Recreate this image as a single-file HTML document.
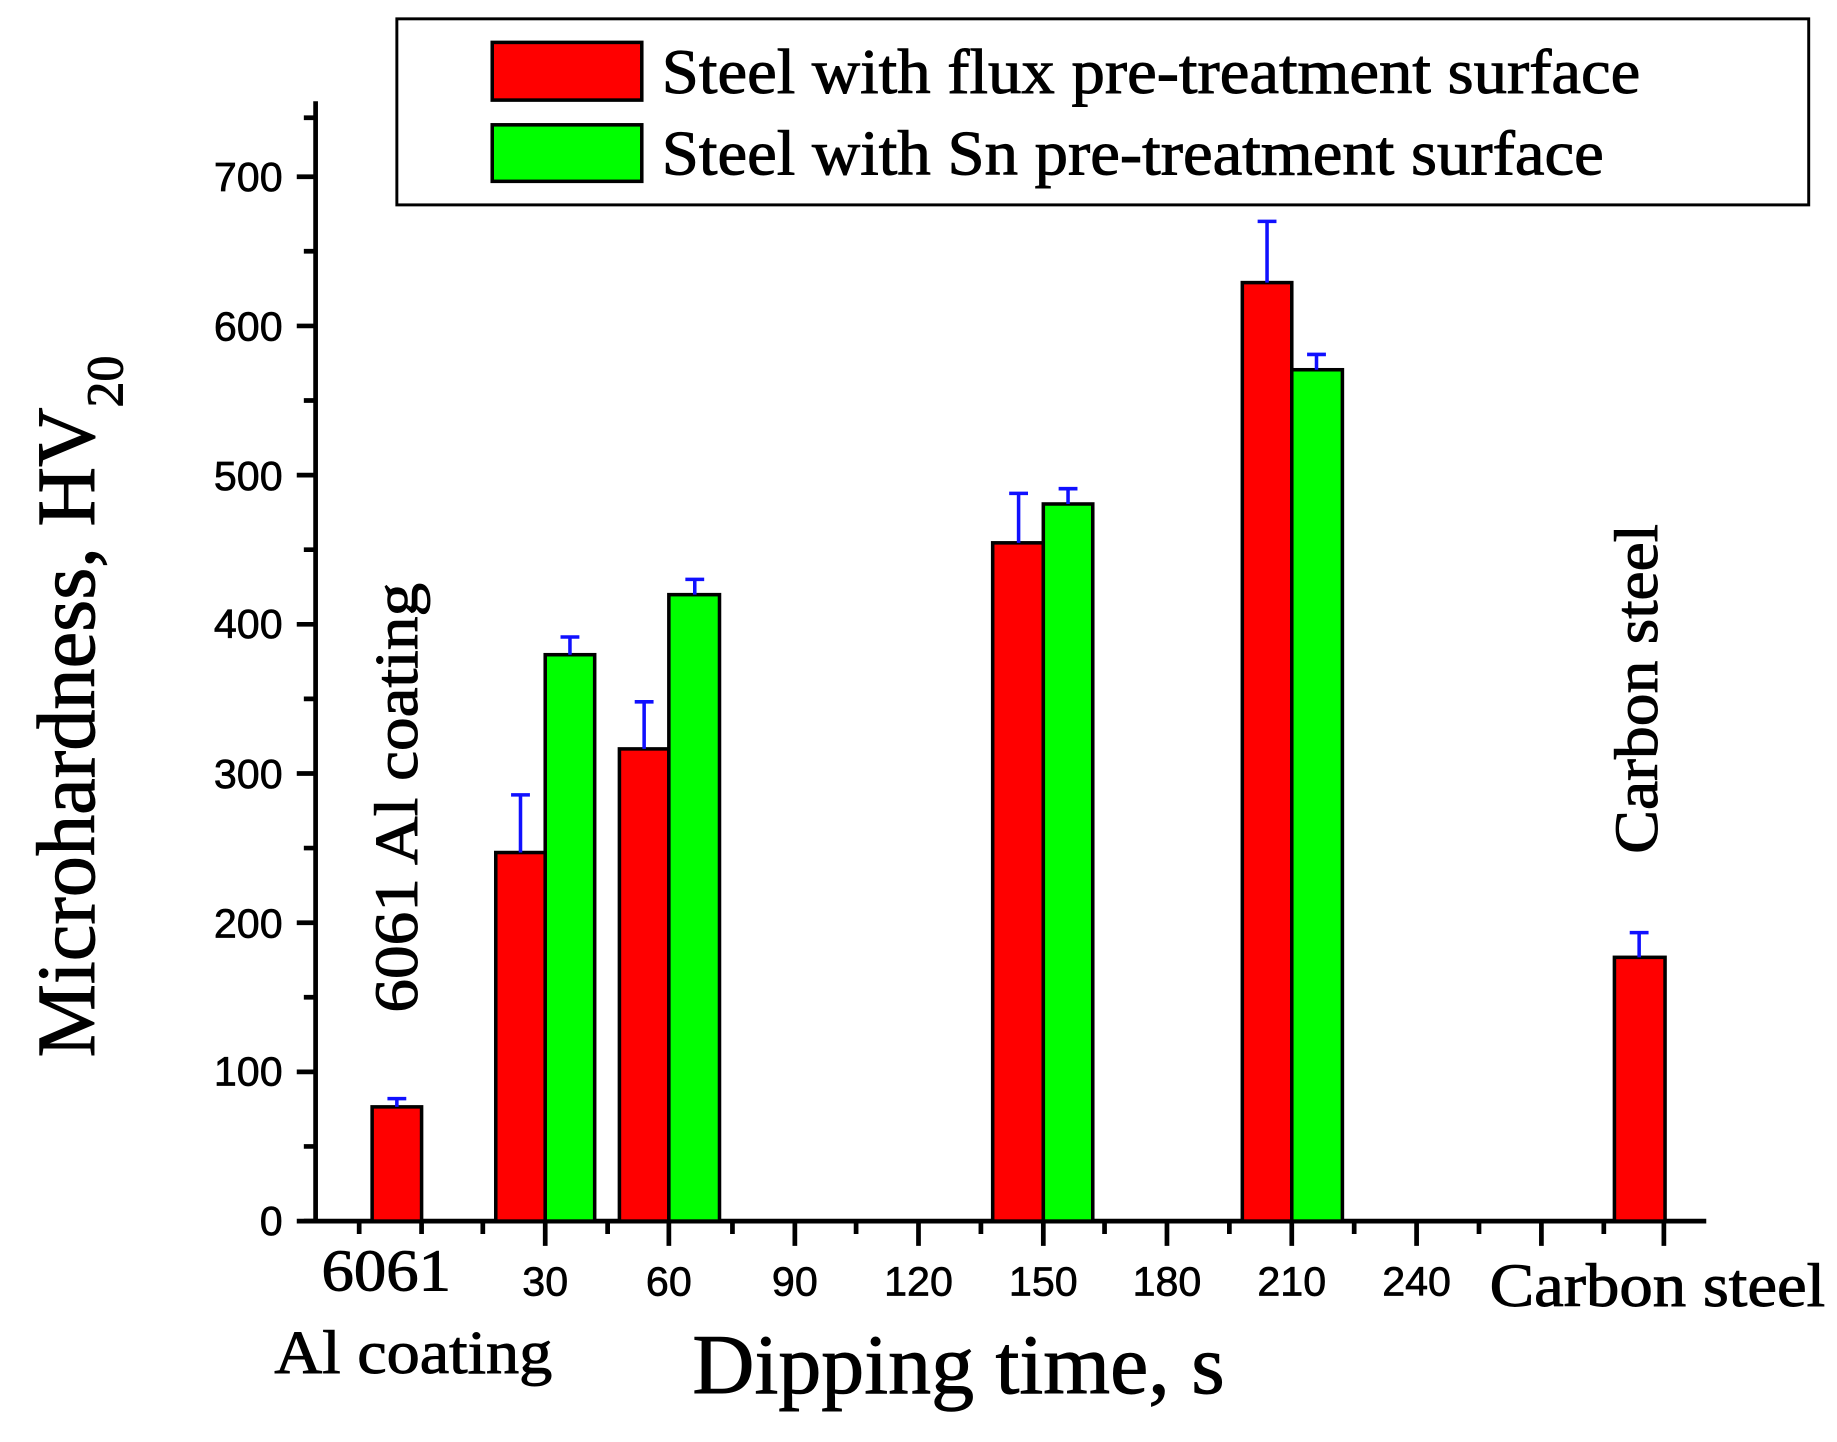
<!DOCTYPE html>
<html><head><meta charset="utf-8"><style>html,body{margin:0;padding:0;background:#fff}svg{display:block}</style></head>
<body>
<svg width="1837" height="1442" viewBox="0 0 1560 1224.6" xmlns="http://www.w3.org/2000/svg">
<g font-family="Liberation Sans, sans-serif" font-size="35" text-anchor="end" fill="#000" stroke="#000" stroke-width="0.6">
<text x="240" y="1049">0</text><text x="240" y="922">100</text><text x="240" y="796">200</text><text x="240" y="669">300</text><text x="240" y="542">400</text><text x="240" y="416">500</text><text x="240" y="289">600</text><text x="240" y="162">700</text>
</g>
<g stroke="#000" stroke-width="4">
<line x1="268" y1="86" x2="268" y2="1039"/>
<line x1="258" y1="1037" x2="1449" y2="1037"/>
<path d="M252 1037h16M252 910.3h16M252 783.6h16M252 656.9h16M252 530.2h16M252 403.5h16M252 276.8h16M252 150.1h16M258 973.6h10M258 846.9h10M258 720.2h10M258 593.5h10M258 466.8h10M258 340.1h10M258 213.4h10M258 100h10"/>
<path d="M305 1037v11M358 1037v11M410 1037v11M516 1037v11M622 1037v11M727 1037v11M833 1037v11M938 1037v11M1044 1037v11M1150 1037v11M1256 1037v11M1362 1037v11M463 1037v21M568 1037v21M675 1037v21M780 1037v21M886 1037v21M991 1037v21M1097 1037v21M1203 1037v21M1309 1037v21M1413 1037v21"/>
</g>
<g stroke="#000" stroke-width="3">
<rect x="316" y="940" width="42" height="97" fill="#f00"/>
<rect x="421" y="724" width="42" height="313" fill="#f00"/>
<rect x="463" y="556" width="42" height="481" fill="#0f0"/>
<rect x="526" y="636" width="42" height="401" fill="#f00"/>
<rect x="568" y="505" width="43" height="532" fill="#0f0"/>
<rect x="843" y="461" width="43" height="576" fill="#f00"/>
<rect x="886" y="428" width="42" height="609" fill="#0f0"/>
<rect x="1055" y="240" width="42" height="797" fill="#f00"/>
<rect x="1097" y="314" width="43" height="723" fill="#0f0"/>
<rect x="1371" y="813" width="43" height="224" fill="#f00"/>
</g>
<g stroke="#1010ff" stroke-width="3">
<path d="M337 940V933M329 933h16"/>
<path d="M442 724V675M434 675h16"/>
<path d="M484 556V541M476 541h16"/>
<path d="M547 636V596M539 596h16"/>
<path d="M590 505V492M582 492h16"/>
<path d="M865 461V419M857 419h16"/>
<path d="M907 428V415M899 415h16"/>
<path d="M1076 240V188M1068 188h16"/>
<path d="M1118 314V301M1110 301h16"/>
<path d="M1392 813V792M1384 792h16"/>
</g>
<rect x="337" y="16" width="1199" height="158" fill="#fff" stroke="#000" stroke-width="2.5"/>
<rect x="418" y="36" width="127" height="49" fill="#f00" stroke="#000" stroke-width="3"/>
<rect x="418" y="106" width="127" height="48" fill="#0f0" stroke="#000" stroke-width="3"/>
<g font-family="Liberation Serif, serif" fill="#000" stroke="#000" stroke-width="0.8">
<text x="562" y="79" font-size="54" textLength="831" lengthAdjust="spacingAndGlyphs">Steel with flux pre-treatment surface</text>
<text x="562" y="148" font-size="54" textLength="800" lengthAdjust="spacingAndGlyphs">Steel with Sn pre-treatment surface</text>
</g>
<g font-family="Liberation Sans, sans-serif" font-size="35" text-anchor="middle" fill="#000" stroke="#000" stroke-width="0.6">
<text x="463" y="1100">30</text><text x="568" y="1100">60</text><text x="675" y="1100">90</text><text x="780" y="1100">120</text><text x="886" y="1100">150</text><text x="991" y="1100">180</text><text x="1097" y="1100">210</text><text x="1203" y="1100">240</text>
</g>
<g font-family="Liberation Serif, serif" fill="#000" stroke="#000" stroke-width="0.8">
<text x="273" y="1096" font-size="50" textLength="110" lengthAdjust="spacingAndGlyphs">6061</text>
<text x="233" y="1166" font-size="52" textLength="236" lengthAdjust="spacingAndGlyphs">Al coating</text>
<text x="1265" y="1109" font-size="52" textLength="285" lengthAdjust="spacingAndGlyphs">Carbon steel</text>
<text x="588" y="1183" font-size="72" textLength="452" lengthAdjust="spacingAndGlyphs">Dipping time, s</text>
<text transform="translate(354,860) rotate(-90)" font-size="52" textLength="365" lengthAdjust="spacingAndGlyphs">6061 Al coating</text>
<text transform="translate(1407,725) rotate(-90)" font-size="52" textLength="280" lengthAdjust="spacingAndGlyphs">Carbon steel</text>
<text transform="translate(80,898) rotate(-90)" font-size="70">Microhardness, HV<tspan font-size="44" dy="24">20</tspan></text>
</g>
</svg>
</body></html>
